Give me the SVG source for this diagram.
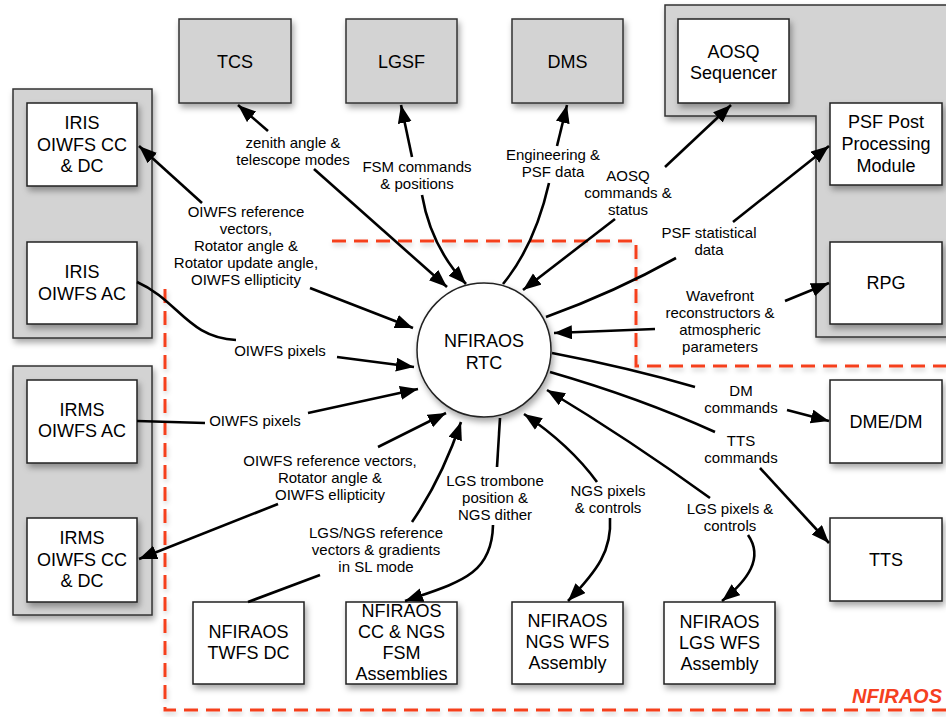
<svg xmlns="http://www.w3.org/2000/svg" width="946" height="717" viewBox="0 0 946 717">
<defs>
<filter id="sh" x="-20%" y="-20%" width="150%" height="150%">
<feDropShadow dx="2" dy="4" stdDeviation="3" flood-color="#000" flood-opacity="0.35"/>
</filter>
<filter id="shl" x="-5%" y="-5%" width="110%" height="110%">
<feDropShadow dx="1" dy="3" stdDeviation="2.5" flood-color="#000" flood-opacity="0.2"/>
</filter>
<marker id="ah" markerUnits="userSpaceOnUse" markerWidth="20" markerHeight="16" refX="18" refY="7" orient="auto">
<path d="M0,0 L18,7 L0,14 z" fill="#000"/>
</marker>
</defs>
<style>
.g{fill:#d3d3d3;stroke:#333;stroke-width:1.5}
.w{fill:#fff;stroke:#222;stroke-width:1.5}
.bt{font-family:"Liberation Sans",Arial,Helvetica,sans-serif;font-size:18px;fill:#000;text-anchor:middle}
.lt{font-family:"Liberation Sans",Arial,Helvetica,sans-serif;font-size:15px;fill:#000;text-anchor:middle}
.c path{fill:none;stroke:#000;stroke-width:2.6}
.a{marker-end:url(#ah)}
</style>
<rect width="946" height="717" fill="#fff"/>

<!-- NFIRAOS boundary -->
<g id="boundary" filter="url(#shl)">
<path d="M332,241 H636 V366 H946 M165,289 V710 H946" fill="none" stroke="#f5401f" stroke-width="3" stroke-dasharray="14 8"/>
</g>
<text x="852" y="703" font-family="Liberation Sans,Arial,sans-serif" font-size="20" font-weight="bold" font-style="italic" fill="#f5401f">NFIRAOS</text>

<!-- containers -->
<g id="iris-container"><rect class="g" x="13" y="89" width="139" height="249" filter="url(#sh)"/></g>
<g id="irms-container"><rect class="g" x="13" y="366" width="139" height="249" filter="url(#sh)"/></g>
<g id="aosq-container"><path class="g" d="M665,5 H960 V337 H816 V116 H665 Z" filter="url(#sh)"/></g>

<!-- nodes -->
<g id="tcs"><rect class="g" x="179" y="19" width="112" height="84" filter="url(#sh)"/><text class="bt" x="235" y="68">TCS</text></g>
<g id="lgsf"><rect class="g" x="346" y="19" width="111" height="84" filter="url(#sh)"/><text class="bt" x="401.5" y="68">LGSF</text></g>
<g id="dms"><rect class="g" x="512" y="19" width="111" height="84" filter="url(#sh)"/><text class="bt" x="567.5" y="68">DMS</text></g>
<g id="aosq"><rect class="w" x="678" y="19" width="111" height="84" filter="url(#sh)"/><text class="bt" x="733.5" y="58">AOSQ</text><text class="bt" x="733.5" y="79">Sequencer</text></g>
<g id="psf"><rect class="w" x="830" y="103" width="112" height="82" filter="url(#sh)"/><text class="bt" x="886" y="128">PSF Post</text><text class="bt" x="886" y="150">Processing</text><text class="bt" x="886" y="172">Module</text></g>
<g id="rpg"><rect class="w" x="830" y="242" width="112" height="82" filter="url(#sh)"/><text class="bt" x="886" y="289">RPG</text></g>
<g id="iris-cc"><rect class="w" x="27" y="103" width="110" height="83" filter="url(#sh)"/><text class="bt" x="82" y="129">IRIS</text><text class="bt" x="82" y="151">OIWFS CC</text><text class="bt" x="82" y="172">&amp; DC</text></g>
<g id="iris-ac"><rect class="w" x="27" y="242" width="110" height="82" filter="url(#sh)"/><text class="bt" x="82" y="278">IRIS</text><text class="bt" x="82" y="300">OIWFS AC</text></g>
<g id="irms-ac"><rect class="w" x="27" y="380" width="110" height="83" filter="url(#sh)"/><text class="bt" x="82" y="416">IRMS</text><text class="bt" x="82" y="437">OIWFS AC</text></g>
<g id="irms-cc"><rect class="w" x="27" y="518" width="110" height="84" filter="url(#sh)"/><text class="bt" x="82" y="544">IRMS</text><text class="bt" x="82" y="566">OIWFS CC</text><text class="bt" x="82" y="587">&amp; DC</text></g>
<g id="twfs"><rect class="w" x="193" y="602" width="111" height="82" filter="url(#sh)"/><text class="bt" x="248.5" y="638">NFIRAOS</text><text class="bt" x="248.5" y="659">TWFS DC</text></g>
<g id="ccngs"><rect class="w" x="346" y="602" width="111" height="82" filter="url(#sh)"/><text class="bt" x="401.5" y="617">NFIRAOS</text><text class="bt" x="401.5" y="638">CC &amp; NGS</text><text class="bt" x="401.5" y="659">FSM</text><text class="bt" x="401.5" y="680">Assemblies</text></g>
<g id="ngswfs"><rect class="w" x="512" y="602" width="111" height="82" filter="url(#sh)"/><text class="bt" x="567.5" y="627">NFIRAOS</text><text class="bt" x="567.5" y="648">NGS WFS</text><text class="bt" x="567.5" y="669">Assembly</text></g>
<g id="lgswfs"><rect class="w" x="664" y="602" width="111" height="82" filter="url(#sh)"/><text class="bt" x="719.5" y="628">NFIRAOS</text><text class="bt" x="719.5" y="649">LGS WFS</text><text class="bt" x="719.5" y="670">Assembly</text></g>
<g id="tts"><rect class="w" x="830" y="518" width="112" height="83" filter="url(#sh)"/><text class="bt" x="886" y="566">TTS</text></g>
<g id="dme"><rect class="w" x="830" y="380" width="112" height="83" filter="url(#sh)"/><text class="bt" x="886" y="428">DME/DM</text></g>
<g id="rtc"><circle cx="484" cy="350" r="67" fill="#fff" stroke="#222" stroke-width="1.5" filter="url(#sh)"/><text class="bt" x="484" y="347">NFIRAOS</text><text class="bt" x="484" y="369">RTC</text></g>

<!-- connectors -->
<g id="connectors" class="c">
<g id="c-tcs"><path class="a" d="M268,131 L238,105"/><path class="a" d="M314,169 L447,287"/>
<text class="lt" x="293" y="148">zenith angle &amp;</text><text class="lt" x="293" y="165">telescope modes</text></g>
<g id="c-lgsf"><path class="a" d="M412,157 L401,105"/><path class="a" d="M422,195 Q431,247 466,284"/>
<text class="lt" x="417" y="172">FSM commands</text><text class="lt" x="417" y="189">&amp; positions</text></g>
<g id="c-dms"><path class="a" d="M557,146 L567,105"/><path d="M549,183 Q535,245 503,284"/>
<text class="lt" x="553" y="160">Engineering &amp;</text><text class="lt" x="553" y="177">PSF data</text></g>
<g id="c-aosq"><path class="a" d="M665,167 L731,105"/><path class="a" d="M615,219 L523,290"/>
<text class="lt" x="628" y="181">AOSQ</text><text class="lt" x="628" y="198">commands &amp;</text><text class="lt" x="628" y="215">status</text></g>
<g id="c-psf"><path class="a" d="M733,222 L829,146"/><path d="M546,317 Q615,292 676,258"/>
<text class="lt" x="709" y="238">PSF statistical</text><text class="lt" x="709" y="255">data</text></g>
<g id="c-rpg"><path class="a" d="M785,301 L829,283"/><path class="a" d="M655,329 L554,333"/>
<text class="lt" x="720" y="301">Wavefront</text><text class="lt" x="720" y="318">reconstructors &amp;</text><text class="lt" x="720" y="335">atmospheric</text><text class="lt" x="720" y="352">parameters</text></g>
<g id="c-dm"><path d="M552,353 Q630,368 695,387"/><path class="a" d="M787,410 L829,421"/>
<text class="lt" x="741" y="396">DM</text><text class="lt" x="741" y="413">commands</text></g>
<g id="c-tts"><path d="M550,372 Q640,398 715,432"/><path class="a" d="M760,468 L829,543"/>
<text class="lt" x="741" y="446">TTS</text><text class="lt" x="741" y="463">commands</text></g>
<g id="c-lgswfs"><path class="a" d="M710,498 Q630,440 547,390"/><path class="a" d="M748,535 C764,558 748,580 722,601"/>
<text class="lt" x="730" y="514">LGS pixels &amp;</text><text class="lt" x="730" y="531">controls</text></g>
<g id="c-ngswfs"><path class="a" d="M597,482 Q570,445 524,414"/><path class="a" d="M610,518 C612,550 598,570 568,601"/>
<text class="lt" x="608" y="496">NGS pixels</text><text class="lt" x="608" y="513">&amp; controls</text></g>
<g id="c-ccngs"><path d="M500,418 L497,467"/><path class="a" d="M493,525 C492,575 460,582 405,601"/>
<text class="lt" x="495" y="486">LGS trombone</text><text class="lt" x="495" y="503">position &amp;</text><text class="lt" x="495" y="520">NGS dither</text></g>
<g id="c-twfs"><path d="M320,575 L248,602"/><path class="a" d="M412,522 Q442,478 461,422"/>
<text class="lt" x="376" y="538">LGS/NGS reference</text><text class="lt" x="376" y="555">vectors &amp; gradients</text><text class="lt" x="376" y="572">in SL mode</text></g>
<g id="c-irmscc"><path class="a" d="M378,447 L446,413"/><path class="a" d="M278,504 L139,559"/>
<text class="lt" x="330" y="466">OIWFS reference vectors,</text><text class="lt" x="330" y="483">Rotator angle &amp;</text><text class="lt" x="330" y="500">OIWFS ellipticity</text></g>
<g id="c-irmsac"><path d="M137,421 L205,423"/><path class="a" d="M308,413 L418,389"/>
<text class="lt" x="255" y="426">OIWFS pixels</text></g>
<g id="c-irisac"><path d="M137,282 C178,300 188,338 236,340"/><path class="a" d="M337,357 L414,367"/>
<text class="lt" x="280" y="356">OIWFS pixels</text></g>
<g id="c-iriscc"><path class="a" d="M202,203 L139,146"/><path class="a" d="M310,288 L413,328"/>
<text class="lt" x="246" y="217">OIWFS reference</text><text class="lt" x="246" y="234">vectors,</text><text class="lt" x="246" y="251">Rotator angle &amp;</text><text class="lt" x="246" y="268">Rotator update angle,</text><text class="lt" x="246" y="285">OIWFS ellipticity</text></g>
</g>
</svg>
